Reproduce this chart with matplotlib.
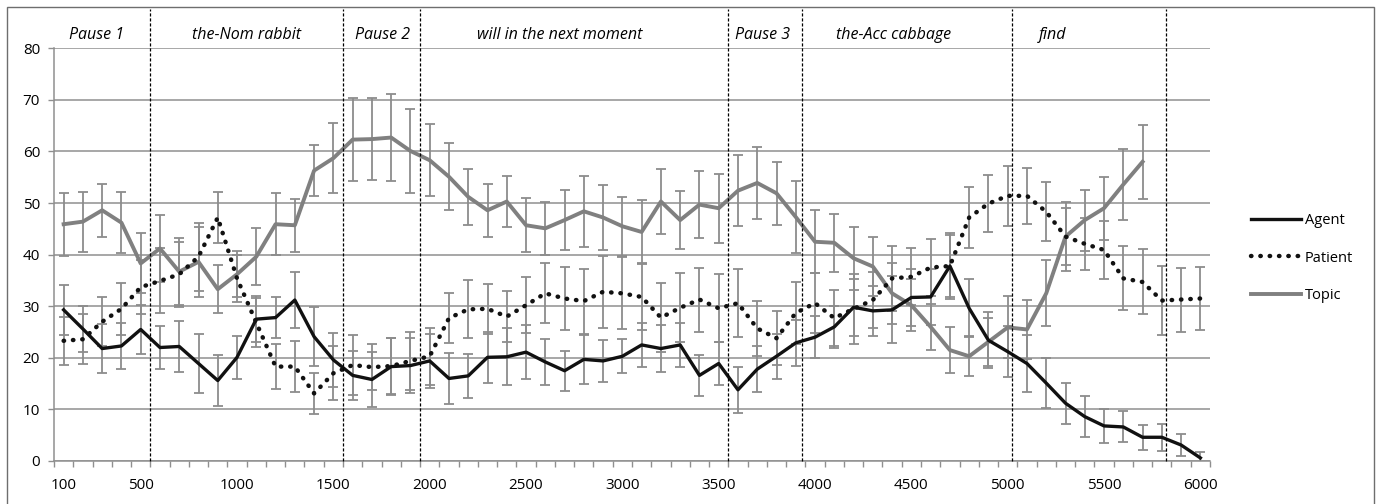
import matplotlib.pyplot as plt
from matplotlib.patches import Rectangle

# time bins (ms) - one category per 100 ms
times = list(range(100, 6100, 100))

agent = [29.3, 25.6, 21.8, 22.3, 25.5, 22.0, 22.2, 18.9, 15.6, 20.1,
         27.5, 27.8, 31.2, 24.1, 19.6, 16.6, 15.8, 18.3, 18.5, 19.4,
         16.0, 16.5, 20.1, 20.2, 21.1, 19.2, 17.5, 19.7, 19.4, 20.3,
         22.5, 21.8, 22.5, 16.6, 18.9, 13.8, 17.8, 20.3, 22.9, 24.0,
         26.0, 29.8, 29.1, 29.3, 31.7, 31.8, 37.8, 29.6, 23.4, 21.2,
         18.9, 15.1, 11.2, 8.6, 6.8, 6.6, 4.6, 4.6, 3.1, 0.6]
agent_err = [4.8, 4.5, 4.8, 4.5, 4.8, 4.2, 5.0, 5.7, 4.9, 4.2,
             4.4, 4.0, 5.5, 5.7, 5.3, 4.8, 5.4, 5.5, 5.3, 5.2,
             5.0, 4.2, 5.0, 5.5, 5.2, 4.5, 3.9, 4.8, 4.0, 3.3,
             4.3, 4.6, 4.2, 4.0, 4.2, 4.5, 4.5, 4.4, 4.5, 4.1,
             4.0, 5.5, 4.8, 6.5, 5.5, 5.5, 6.4, 5.6, 5.4, 5.0,
             5.6, 4.8, 4.0, 4.0, 3.3, 3.0, 2.4, 2.6, 2.1, 1.2]

patient = [23.3, 23.6, 27.0, 29.5, 33.7, 34.9, 36.2, 39.6, 47.2, 35.4,
           26.8, 18.3, 18.3, 13.1, 17.0, 18.6, 18.2, 18.4, 19.4, 20.3,
           27.7, 29.4, 29.5, 28.0, 30.2, 32.5, 31.5, 31.0, 32.8, 32.5,
           31.8, 27.8, 29.7, 31.3, 29.6, 30.6, 25.7, 23.8, 28.7, 30.6,
           27.7, 29.5, 31.2, 35.4, 35.7, 37.5, 37.8, 47.2, 49.9, 51.4,
           51.4, 48.3, 43.5, 42.1, 40.9, 35.4, 34.7, 31.1, 31.3, 31.5]
patient_err = [4.6, 4.8, 4.7, 5.1, 5.2, 6.3, 6.3, 6.6, 5.0, 4.5,
               4.7, 4.4, 5.0, 4.0, 5.2, 5.8, 4.5, 5.4, 5.6, 5.5,
               4.8, 5.6, 4.8, 5.0, 5.4, 5.8, 6.2, 6.3, 7.0, 7.0,
               6.4, 6.7, 6.7, 6.2, 6.6, 6.6, 5.4, 5.2, 6.0, 5.8,
               5.5, 6.8, 5.5, 6.3, 5.5, 5.5, 6.0, 6.0, 5.5, 5.8,
               5.4, 5.7, 5.6, 5.0, 5.6, 6.2, 6.3, 6.7, 6.2, 6.1]

topic = [45.9, 46.4, 48.6, 46.2, 38.3, 41.2, 36.7, 38.6, 33.3, 36.2,
         39.6, 45.9, 45.7, 56.3, 58.7, 62.3, 62.4, 62.7, 60.1, 58.3,
         55.1, 51.2, 48.6, 50.3, 45.7, 45.1, 46.7, 48.4, 47.2, 45.5,
         44.4, 50.3, 46.7, 49.7, 49.0, 52.4, 53.9, 51.9, 47.3, 42.5,
         42.3, 39.3, 37.7, 32.5, 30.2, 26.0, 21.5, 20.3, 23.1, 25.9,
         25.5, 32.5, 43.5, 46.7, 49.0, 53.6, 58.0]
topic_err = [6.1, 5.8, 5.1, 5.9, 5.8, 6.5, 6.5, 6.8, 4.7, 4.5,
             5.5, 6.0, 5.1, 5.0, 6.8, 8.0, 8.0, 8.4, 8.2, 7.0,
             6.5, 5.4, 5.1, 5.0, 5.2, 5.2, 5.8, 6.9, 6.3, 5.7,
             6.1, 6.3, 5.6, 6.5, 6.7, 6.9, 6.9, 6.1, 7.0, 6.1,
             5.6, 6.1, 5.8, 5.9, 5.0, 4.5, 4.4, 3.9, 4.7, 6.0,
             5.7, 6.4, 6.7, 5.9, 6.1, 6.8, 7.2]

# sentence regions
boundaries = [550, 1550, 1950, 3550, 3930, 5020, 5820]
seg_labels = ['Pause 1', 'the-Nom rabbit', 'Pause 2', 'will in the next moment',
              'Pause 3', 'the-Acc cabbage', 'find']
seg_centers = [273, 1050, 1757, 2676, 3727, 4409, 5234]

tick_labels = [100, 500, 1000, 1500, 2000, 2500, 3000, 3500, 4000, 4500, 5000, 5500, 6000]

plt.rcParams['font.family'] = ['Open Sans', 'DejaVu Sans']

fig = plt.figure(figsize=(13.8, 5.04), dpi=100)
ax = fig.add_axes([54 / 1380, 1 - 461 / 504, (1210 - 54) / 1380, (461 - 48.3) / 504])

grid_c = '#8f8f8f'
err_c = '#8c8c8c'

ax.set_ylim(0, 80)
ax.set_xlim(50, 6050)
ax.set_yticks(range(0, 81, 10))
ax.yaxis.grid(True, color=grid_c, lw=1.1)
ax.set_axisbelow(True)

ax.errorbar(times, agent, yerr=agent_err, fmt='none', ecolor=err_c, elinewidth=1.3, capsize=3.5, capthick=1.3, zorder=2)
ax.errorbar(times, patient, yerr=patient_err, fmt='none', ecolor=err_c, elinewidth=1.3, capsize=3.5, capthick=1.3, zorder=2)
ax.errorbar(times[:len(topic)], topic, yerr=topic_err, fmt='none', ecolor=err_c, elinewidth=1.3, capsize=3.5, capthick=1.3, zorder=2)

ax.plot(times, agent, color='#111111', lw=2.4, label='Agent', zorder=4)
ax.plot(times, patient, color='#111111', lw=3.2, linestyle=(0, (0.1, 2.0)),
        dash_capstyle='round', label='Patient', zorder=4)
ax.plot(times[:len(topic)], topic, color='#808080', lw=2.8, label='Topic', zorder=3)

for b in boundaries:
    ax.axvline(b, ymin=0, ymax=(461 - 9) / (461 - 48.3), color='black', lw=0.9,
               linestyle=(0, (2.5, 1.5)), clip_on=False, zorder=5)

for lab, c in zip(seg_labels, seg_centers):
    ax.text(c, (461 - 35) / (461 - 48.3), lab, transform=ax.get_xaxis_transform(),
            ha='center', va='center', style='italic', fontsize=11.5)

ax.set_xticks(tick_labels)
ax.set_xticklabels([str(t) for t in tick_labels])
ax.set_xticks([t - 50 for t in times] + [6050], minor=True)
ax.tick_params(axis='x', which='major', length=0, pad=12, labelsize=11)
ax.tick_params(axis='x', which='minor', length=4, color=grid_c, width=1)
ax.tick_params(axis='y', length=4, color=grid_c, width=1, pad=6, labelsize=11)

for s in ['top', 'right']:
    ax.spines[s].set_visible(False)
for s in ['left', 'bottom']:
    ax.spines[s].set_color(grid_c)
    ax.spines[s].set_linewidth(1.1)

leg = ax.legend(loc='center left', bbox_to_anchor=(1238 / 1380, 1 - 258 / 504),
                bbox_transform=fig.transFigure, frameon=False, fontsize=10.5,
                handlelength=3.4, handletextpad=0.3, labelspacing=1.55)

fig.add_artist(Rectangle((7 / 1380, -0.1), (1374 - 7) / 1380, 0.1 + (504 - 7) / 504,
                         transform=fig.transFigure, fill=False, ec='#6e6e6e', lw=1.0))

fig.savefig('out.png', dpi=100)
